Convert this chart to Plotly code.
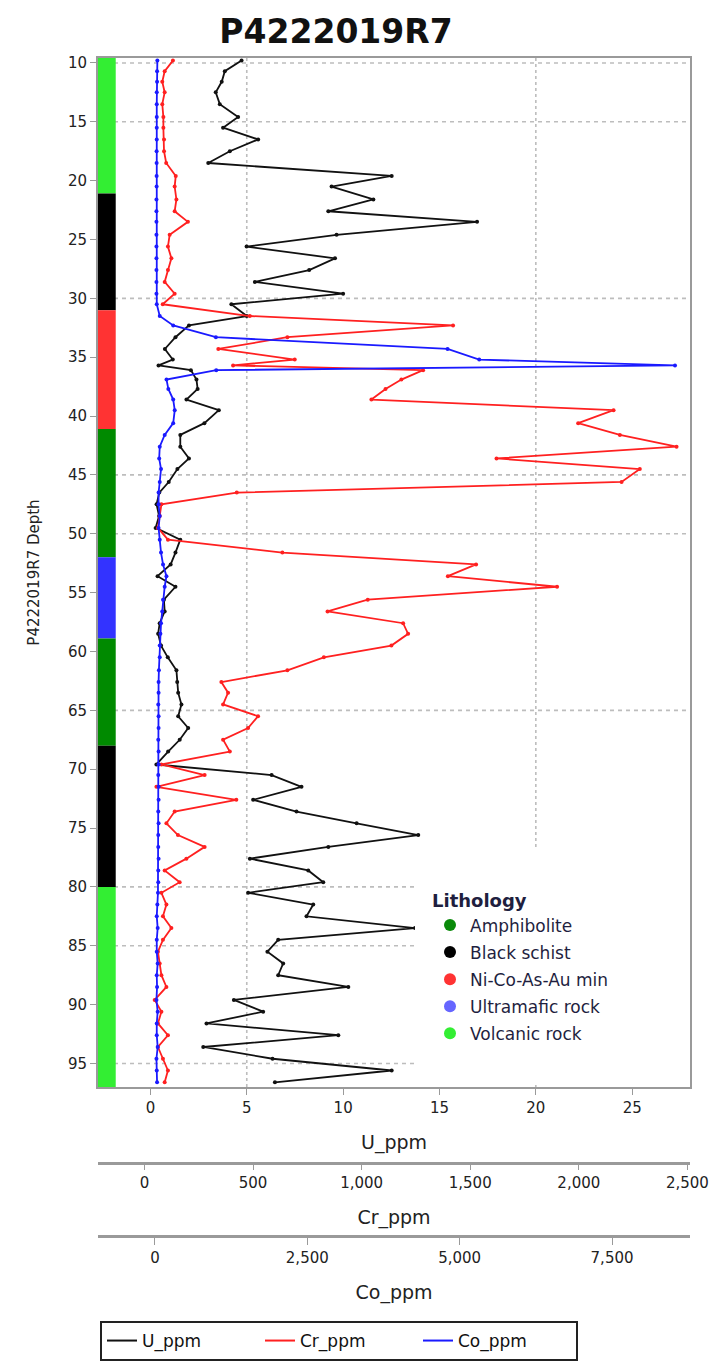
import plotly.graph_objects as go

# ---------------- data ----------------
depth = [9.8, 10.7, 11.6, 12.5, 13.5, 14.6, 15.5, 16.5, 17.5, 18.5,
         19.6, 20.5, 21.6, 22.6, 23.5, 24.6, 25.6, 26.6, 27.6, 28.6,
         29.6, 30.5, 31.5, 32.3, 33.3, 34.3, 35.2, 35.7, 36.1, 36.9,
         37.7, 38.6, 39.5, 40.6, 41.6, 42.6, 43.6, 44.5, 45.6, 46.5,
         47.5, 48.5, 49.5, 50.5, 51.6, 52.6, 53.6, 54.5, 55.6, 56.6,
         57.6, 58.5, 59.5, 60.5, 61.6, 62.6, 63.5, 64.5, 65.5, 66.5,
         67.5, 68.5, 69.6, 70.5, 71.5, 72.6, 73.6, 74.6, 75.6, 76.6,
         77.6, 78.6, 79.6, 80.5, 81.5, 82.5, 83.5, 84.5, 85.5, 86.5,
         87.5, 88.5, 89.6, 90.6, 91.6, 92.6, 93.6, 94.6, 95.6, 96.6]

u_ppm = [4.73, 3.86, 3.7, 3.39, 3.6, 4.55, 3.77, 5.59, 4.12, 3.0,
         12.52, 9.4, 11.57, 9.23, 16.95, 9.66, 4.99, 9.58, 8.24, 5.42,
         10.0, 4.2, 5.0, 2.0, 1.3, 0.75, 1.16, 0.42, 2.1, 2.39,
         2.45, 1.87, 3.55, 2.8, 1.55, 1.55, 2.0, 1.4, 0.95, 0.46,
         0.32, 0.45, 0.27, 1.55, 1.3, 1.05, 0.37, 1.3, 0.7, 0.74,
         0.48, 0.4, 0.55, 0.9, 1.35, 1.39, 1.44, 1.61, 1.44, 1.96,
         1.52, 0.92, 0.31, 6.29, 7.84, 5.33, 7.58, 10.7, 13.9, 9.23,
         5.16, 8.19, 8.97, 5.07, 8.45, 8.1, 13.73, 6.63, 6.07, 6.89,
         6.63, 10.27, 4.33, 5.85, 2.91, 9.75, 2.74, 6.34, 12.52, 6.46]

cr_ppm = [131, 93, 82, 93, 82, 87, 87, 90, 90, 100,
          144, 139, 147, 139, 200, 116, 108, 124, 108, 93,
          139, 84, 485, 1421, 658, 340, 692, 408, 1283, 1183,
          1110, 1045, 2160, 1997, 2189, 2450, 1621, 2281, 2197, 425,
          78, 70, 62, 108, 635, 1527, 1397, 1900, 1028, 843,
          1191, 1214, 1137, 826, 658, 354, 385, 362, 523, 477,
          362, 393, 78, 277, 55, 423, 139, 101, 154, 277,
          193, 93, 162, 78, 101, 85, 124, 85, 62, 70,
          78, 101, 47, 78, 62, 108, 62, 85, 108, 93]

co_ppm = [40, 35, 35, 30, 30, 30, 30, 30, 28, 28,
          28, 28, 25, 25, 25, 25, 25, 25, 25, 25,
          25, 30, 79, 300, 1000, 4801, 5320, 8533, 1006, 190,
          220, 300, 325, 300, 160, 79, 70, 100, 79, 60,
          60, 79, 60, 79, 100, 133, 189, 160, 133, 120,
          100, 90, 79, 79, 65, 60, 60, 55, 60, 60,
          55, 60, 60, 55, 60, 60, 55, 60, 55, 55,
          60, 55, 55, 50, 40, 30, 45, 30, 30, 45,
          30, 35, 25, 45, 30, 30, 45, 25, 30, 35]

litho_unit = ["Volcanic rock", "Black schist", "Ni-Co-As-Au min", "Amphibolite",
              "Ultramafic rock", "Amphibolite", "Black schist", "Volcanic rock"]
litho_top = [9.58, 21.1, 31.0, 41.1, 52.0, 58.9, 68.0, 80.0]
litho_bottom = [21.1, 31.0, 41.1, 52.0, 58.9, 68.0, 80.0, 97.0]

litho_legend = ["Amphibolite", "Black schist", "Ni-Co-As-Au min",
                "Ultramafic rock", "Volcanic rock"]
series_names = ["U_ppm", "Cr_ppm", "Co_ppm"]

depth_ticks = list(range(10, 100, 5))
u_ticks = [0, 5, 10, 15, 20, 25]
cr_ticks = [0, 500, 1000, 1500, 2000, 2500]
co_ticks = [0, 2500, 5000, 7500]
grid_depths = [10, 15, 30, 45, 50, 65, 80, 85, 95]
grid_u = [5, 20]

# ---------------- styles ----------------
column_color = {"Volcanic rock": "#33ee33", "Black schist": "#000000",
                "Ni-Co-As-Au min": "#ff3333", "Amphibolite": "#008a00",
                "Ultramafic rock": "#3333ff"}
legend_color = {"Volcanic rock": "#33ee33", "Black schist": "#000000",
                "Ni-Co-As-Au min": "#ff3333", "Amphibolite": "#0a8a0a",
                "Ultramafic rock": "#6666ff"}
series_color = {"U_ppm": "#111111", "Cr_ppm": "#ff2020", "Co_ppm": "#1a1aff"}
series_axis = {"U_ppm": "x", "Cr_ppm": "x2", "Co_ppm": "x3"}
series_values = {"U_ppm": u_ppm, "Cr_ppm": cr_ppm, "Co_ppm": co_ppm}

W, H = 713, 1365
L, R, T, B = 98, 23, 58, 129           # plot area: x 98..690, y 58..1236
PH = H - T - B
PW = W - L - R
Y_BOTTOM_PX = 1087                     # bottom of main panel
y_dom0 = (H - B - Y_BOTTOM_PX) / PH
cr_pos = (H - B - 1163) / PH
FONT = "DejaVu Sans"
AX = "#9a9a9a"
TXT = "#222222"

fig = go.Figure()

# lithology column
fig.add_trace(go.Bar(
    x=[-2.26] * len(litho_unit),
    y=[b - t for t, b in zip(litho_top, litho_bottom)],
    base=litho_top, width=0.92,
    marker=dict(color=[column_color[u] for u in litho_unit], line=dict(width=0)),
    showlegend=False, hoverinfo="skip", xaxis="x", yaxis="y"))

for name in series_names:
    c = series_color[name]
    fig.add_trace(go.Scatter(x=series_values[name], y=depth, mode="lines+markers",
                             name=name, line=dict(color=c, width=1.8),
                             marker=dict(size=4, color=c), showlegend=False,
                             xaxis=series_axis[name], yaxis="y"))
# legend entries (line only, as in the reference)
for name in series_names:
    fig.add_trace(go.Scatter(x=[None], y=[None], mode="lines", name=name,
                             line=dict(color=series_color[name], width=2),
                             legend="legend", xaxis="x", yaxis="y"))

for name in litho_legend:
    fig.add_trace(go.Scatter(x=[None], y=[None], mode="markers", name=name,
                             marker=dict(size=12, color=legend_color[name]),
                             legend="legend2", legendgroup=name,
                             xaxis="x", yaxis="y"))

shapes = []
for d in grid_depths:
    shapes.append(dict(type="line", xref="paper", x0=0, x1=1, yref="y", y0=d, y1=d,
                       line=dict(color="#bdbdbd", width=1.6, dash="4px,4px"), layer="below"))
for u in grid_u:
    shapes.append(dict(type="line", xref="x", x0=u, x1=u, yref="paper", y0=y_dom0, y1=1,
                       line=dict(color="#bdbdbd", width=1.6, dash="dot"), layer="below"))
# white legend panel
shapes.append(dict(type="rect", xref="paper", yref="paper",
                   x0=(415 - L) / PW, x1=(688 - L) / PW,
                   y0=(H - B - 1085) / PH, y1=(H - B - 850) / PH,
                   fillcolor="white", line=dict(width=0), layer="above"))

tickfont = dict(family=FONT, size=15, color=TXT)
titlefont = dict(family=FONT, size=19, color=TXT)

fig.update_layout(
    width=W, height=H,
    margin=dict(l=L, r=R, t=T, b=B, autoexpand=False),
    paper_bgcolor="white", plot_bgcolor="white",
    barmode="overlay",
    title=dict(text="<b>P4222019R7</b>", x=336 / W, xref="container", xanchor="center",
               y=1 - 31 / H, yref="container", yanchor="middle",
               font=dict(family=FONT, size=33, color="#111111")),
    xaxis=dict(range=[-2.72, 28.0], tickvals=u_ticks, ticks="outside", ticklen=6,
               tickcolor=AX, showline=True, mirror=True, linecolor=AX, linewidth=2,
               showgrid=False, zeroline=False, tickfont=tickfont, anchor="y",
               title=dict(text="U_ppm", font=titlefont, standoff=20)),
    xaxis2=dict(range=[-214, 2512], tickvals=cr_ticks, tickformat=",d",
                overlaying="x", anchor="free", position=cr_pos, side="bottom",
                ticks="outside", ticklen=5, tickcolor=AX, showline=True,
                linecolor=AX, linewidth=2.5, showgrid=False, zeroline=False,
                tickfont=tickfont, title=dict(text="Cr_ppm", font=titlefont, standoff=19)),
    xaxis3=dict(range=[-934, 8779], tickvals=co_ticks, tickformat=",d",
                overlaying="x", anchor="free", position=0, side="bottom",
                ticks="outside", ticklen=7, tickcolor=AX, showline=True,
                linecolor=AX, linewidth=2.5, showgrid=False, zeroline=False,
                tickfont=tickfont, title=dict(text="Co_ppm", font=titlefont, standoff=19)),
    yaxis=dict(domain=[y_dom0, 1], range=[97.0, 9.58], tickvals=depth_ticks,
               ticks="outside", ticklen=6, tickcolor=AX, showline=True, mirror=True,
               linecolor=AX, linewidth=2, showgrid=False, zeroline=False,
               tickfont=tickfont,
               title=dict(text="P4222019R7 Depth", font=dict(family=FONT, size=15, color=TXT),
                          standoff=25)),
    shapes=shapes,
    legend=dict(orientation="h", xref="container", yref="container",
                x=100 / W, y=1 - 1321 / H,
                xanchor="left", yanchor="top", bgcolor="white",
                bordercolor="#222222", borderwidth=2, entrywidth=113,
                entrywidthmode="pixels",
                font=dict(family=FONT, size=17, color="#111111")),
    legend2=dict(x=(430 - L) / PW, y=(H - B - 884) / PH, xanchor="left", yanchor="top",
                 bgcolor="rgba(0,0,0,0)", tracegroupgap=2, itemsizing="constant",
                 title=dict(text="<b>Lithology</b>",
                            font=dict(family=FONT, size=18, color="#1f1f3f")),
                 font=dict(family=FONT, size=17, color="#1f1f3f")),
)

assert len(depth) == len(u_ppm) == len(cr_ppm) == len(co_ppm)
fig.write_html("out.html")
